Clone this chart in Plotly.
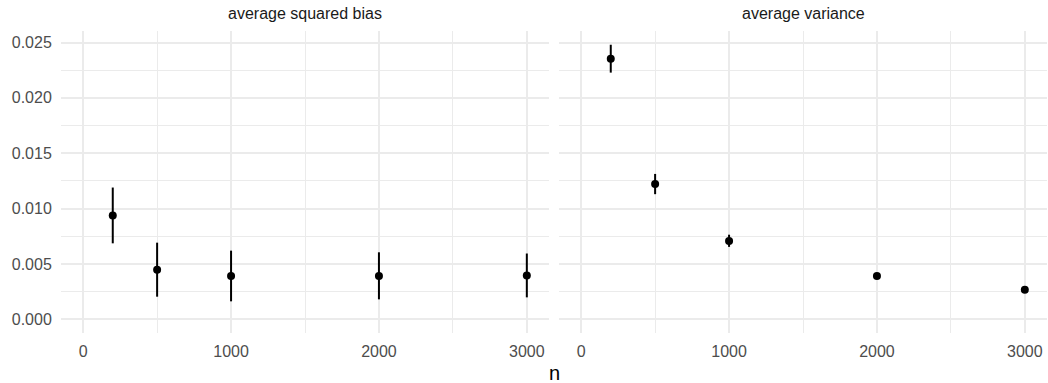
import plotly.graph_objects as go

W, H = 1048, 383

n_vals = [200, 500, 1000, 2000, 3000]

bias_mean = [0.00938, 0.00447, 0.00390, 0.00390, 0.00396]
bias_low = [0.00686, 0.00204, 0.00162, 0.00180, 0.00198]
bias_high = [0.01190, 0.00692, 0.00620, 0.00605, 0.00594]

var_mean = [0.02353, 0.01223, 0.00708, 0.00390, 0.00267]
var_low = [0.02228, 0.01130, 0.00654, 0.00375, 0.00255]
var_high = [0.02480, 0.01313, 0.00764, 0.00405, 0.00279]

panel_titles = ["average squared bias", "average variance"]
x_ticks = [0, 1000, 2000, 3000]
y_ticks = [0.000, 0.005, 0.010, 0.015, 0.020, 0.025]
y_tick_labels = ["0.000", "0.005", "0.010", "0.015", "0.020", "0.025"]

FONT = "Liberation Sans, Arial, sans-serif"
GRID = "#EBEBEB"

fig = go.Figure()

for i, (m, lo, hi) in enumerate([(bias_mean, bias_low, bias_high),
                                 (var_mean, var_low, var_high)]):
    suffix = "" if i == 0 else "2"
    fig.add_trace(go.Scatter(
        x=n_vals, y=m, mode="markers",
        marker=dict(color="black", size=8),
        error_y=dict(type="data", symmetric=False,
                     array=[h - v for h, v in zip(hi, m)],
                     arrayminus=[v - l for l, v in zip(lo, m)],
                     color="black", thickness=2, width=0),
        xaxis="x" + suffix, yaxis="y" + suffix, showlegend=False,
        hoverinfo="skip"))

x_range = [-150, 3150]
y_range = [-0.00124, 0.02604]
y_dom = [50 / H, 1 - 31 / H]
x_doms = [[61 / W, 549 / W], [559 / W, 1047 / W]]

common_x = dict(range=x_range, tickvals=x_ticks, ticktext=[str(t) for t in x_ticks],
                showgrid=True, gridcolor=GRID, gridwidth=1.6, zeroline=False,
                showline=False, ticks="outside", ticklen=4, tickcolor="rgba(0,0,0,0)",
                tickfont=dict(family=FONT, size=16, color="#4D4D4D"),
                minor=dict(tickvals=[500, 1500, 2500], showgrid=True,
                           gridcolor=GRID, gridwidth=0.8, ticks=""))
common_y = dict(range=y_range, tickvals=y_ticks,
                showgrid=True, gridcolor=GRID, gridwidth=1.6, zeroline=False,
                showline=False,
                minor=dict(tickvals=[0.0025, 0.0075, 0.0125, 0.0175, 0.0225],
                           showgrid=True, gridcolor=GRID, gridwidth=0.8, ticks=""))

fig.update_layout(
    width=W, height=H,
    margin=dict(l=0, r=0, t=0, b=0),
    paper_bgcolor="white", plot_bgcolor="white",
    font=dict(family=FONT),
    xaxis=dict(domain=x_doms[0], anchor="y", **common_x),
    xaxis2=dict(domain=x_doms[1], anchor="y2", **common_x),
    yaxis=dict(domain=y_dom, anchor="x", ticktext=y_tick_labels, showticklabels=True,
               ticks="outside", ticklen=5, tickcolor="rgba(0,0,0,0)",
               tickfont=dict(family=FONT, size=16, color="#4D4D4D"), **common_y),
    yaxis2=dict(domain=y_dom, anchor="x2", showticklabels=False, **common_y),
)

for i, t in enumerate(panel_titles):
    fig.add_annotation(text=t, xref="paper", yref="paper",
                       x=sum(x_doms[i]) / 2, y=1 - 14 / H,
                       xanchor="center", yanchor="middle", showarrow=False,
                       font=dict(family=FONT, size=16, color="#1A1A1A"))

fig.add_annotation(text="n", xref="paper", yref="paper",
                   x=554 / W, y=1 - 373 / H, xanchor="center", yanchor="middle",
                   showarrow=False, font=dict(family=FONT, size=20, color="black"))

fig.write_html("out.html", config={"displayModeBar": False},
               post_script="document.body.style.margin='0';")
